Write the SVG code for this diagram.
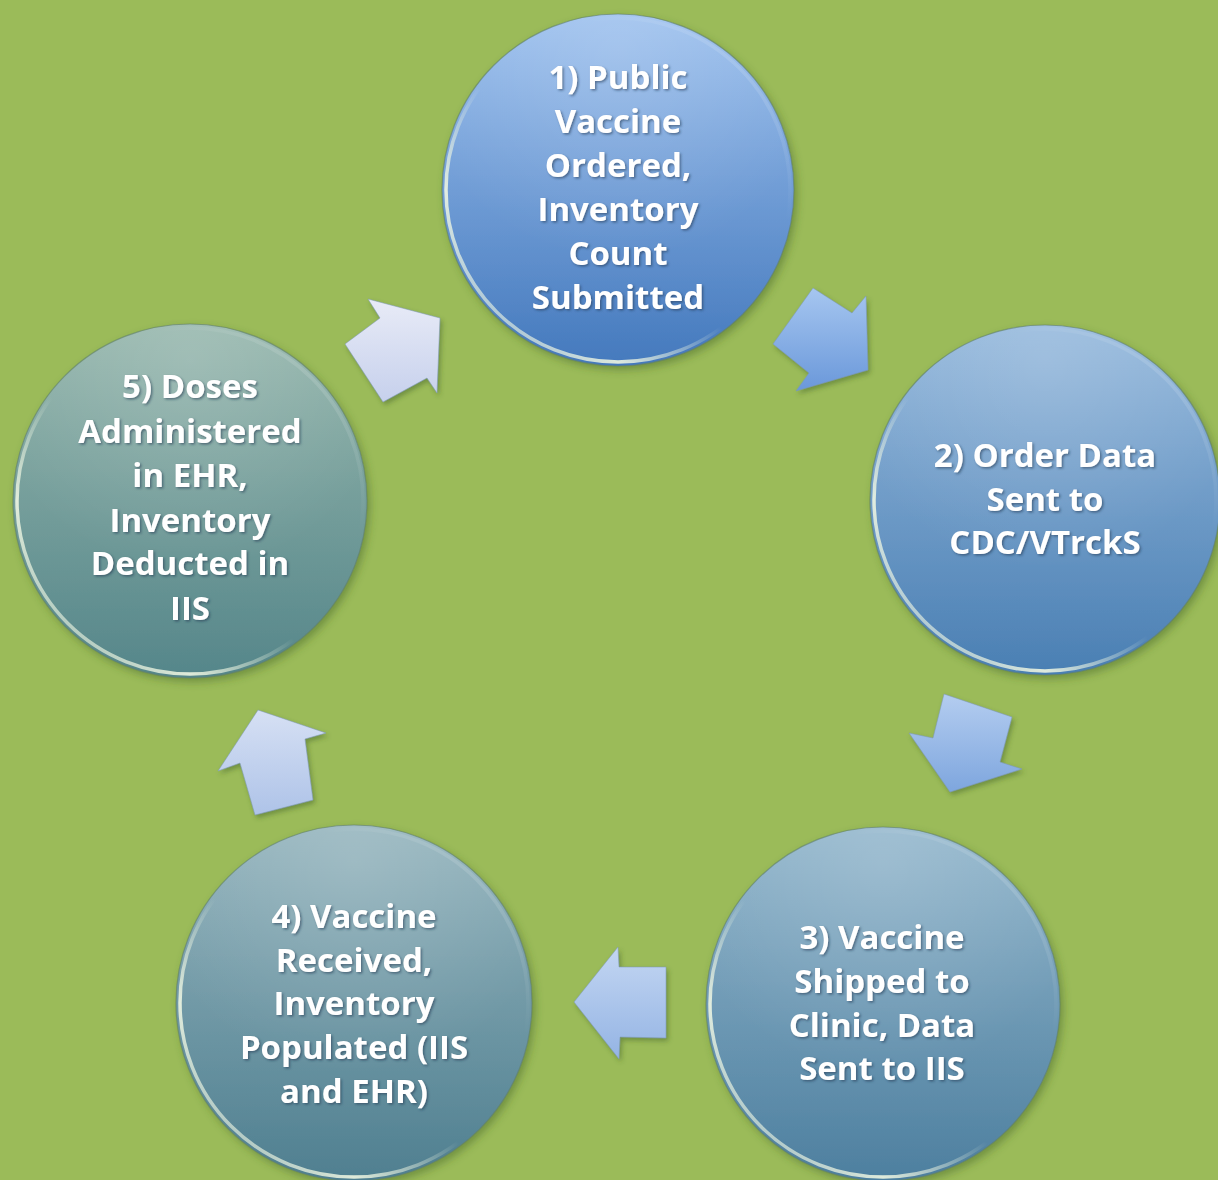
<svg xmlns="http://www.w3.org/2000/svg" width="1218" height="1180" viewBox="0 0 1218 1180">
<style>
.lbl{font-family:"Open Sans","Liberation Sans",sans-serif;font-weight:bold;font-size:33px;fill:#ffffff;text-anchor:middle;filter:url(#tsh)}
.rim{fill:none;stroke:url(#rimg);stroke-width:3.5}
.edge{fill:none;stroke:#5f7f6a;stroke-width:1.2;opacity:0.6}
.arr{stroke:#7a95b8;stroke-width:1;stroke-opacity:0.5;filter:url(#ash)}
</style>
<defs>
<filter id="tsh" x="-10%" y="-20%" width="120%" height="140%">
<feDropShadow dx="1.5" dy="1.5" stdDeviation="1.2" flood-color="#1d3550" flood-opacity="0.55"/>
</filter>
<filter id="csh" x="-10%" y="-10%" width="125%" height="125%">
<feDropShadow dx="3" dy="4" stdDeviation="4" flood-color="#3d5a20" flood-opacity="0.45"/>
</filter>
<filter id="ash" x="-15%" y="-15%" width="135%" height="135%">
<feDropShadow dx="2" dy="3" stdDeviation="2.5" flood-color="#3d5a20" flood-opacity="0.45"/>
</filter>
<linearGradient id="rimg" x1="1" y1="0" x2="0" y2="1">
<stop offset="0" stop-color="#ffffff" stop-opacity="0.25"/>
<stop offset="0.3" stop-color="#ffffff" stop-opacity="0"/>
<stop offset="0.55" stop-color="#eef6e2" stop-opacity="0"/>
<stop offset="0.75" stop-color="#eef6e2" stop-opacity="0.9"/>
<stop offset="0.9" stop-color="#eef6e2" stop-opacity="0.5"/>
<stop offset="1" stop-color="#eef6e2" stop-opacity="0"/>
</linearGradient>
<linearGradient id="g1" x1="0" y1="0" x2="0" y2="1">
<stop offset="0" stop-color="#9cc0ee"/><stop offset="1" stop-color="#4479bd"/>
</linearGradient>
<linearGradient id="g2" x1="0" y1="0" x2="0" y2="1">
<stop offset="0" stop-color="#94b8dc"/><stop offset="1" stop-color="#4a7fb3"/>
</linearGradient>
<linearGradient id="g3" x1="0" y1="0" x2="0" y2="1">
<stop offset="0" stop-color="#92b6cc"/><stop offset="1" stop-color="#4d7f9f"/>
</linearGradient>
<linearGradient id="g4" x1="0" y1="0" x2="0" y2="1">
<stop offset="0" stop-color="#94b4bd"/><stop offset="1" stop-color="#4f7f90"/>
</linearGradient>
<linearGradient id="g5" x1="0" y1="0" x2="0" y2="1">
<stop offset="0" stop-color="#95b6ac"/><stop offset="1" stop-color="#55868a"/>
</linearGradient>
<linearGradient id="a1" x1="0" y1="0" x2="0" y2="1">
<stop offset="0" stop-color="#a6c6f0"/><stop offset="1" stop-color="#6a98da"/>
</linearGradient>
<linearGradient id="a2" x1="0" y1="0" x2="0" y2="1">
<stop offset="0" stop-color="#b4cdf0"/><stop offset="1" stop-color="#7ea6de"/>
</linearGradient>
<linearGradient id="a3" x1="0" y1="0" x2="0" y2="1">
<stop offset="0" stop-color="#c3d6f2"/><stop offset="1" stop-color="#94b4e4"/>
</linearGradient>
<linearGradient id="a4" x1="0" y1="0" x2="0" y2="1">
<stop offset="0" stop-color="#d6e0f4"/><stop offset="1" stop-color="#aec3e8"/>
</linearGradient>
<linearGradient id="a5" x1="0" y1="0" x2="0" y2="1">
<stop offset="0" stop-color="#e8ebf7"/><stop offset="1" stop-color="#c6d0ec"/>
</linearGradient>
<radialGradient id="gloss" cx="0.5" cy="0.1" r="0.6">
<stop offset="0" stop-color="#ffffff" stop-opacity="0.15"/><stop offset="1" stop-color="#ffffff" stop-opacity="0"/>
</radialGradient>
</defs>
<rect x="0" y="0" width="1218" height="1180" fill="#9bbb59"/>

<g id="connectors">
<polygon class="arr" fill="url(#a1)" points="813,288 852,313 866,296 868,370 796,391 809,373 773,344"/>
<polygon class="arr" fill="url(#a2)" points="944,694 1012,717 1000,762 1022,769 950,792 909,733 933,738"/>
<polygon class="arr" fill="url(#a3)" points="666,967 666,1038 620,1037 619,1059 574,1002 618,947 619,967"/>
<polygon class="arr" fill="url(#a4)" points="258,710 326,733 305,739 313,800 255,815 240,763 218,771"/>
<polygon class="arr" fill="url(#a5)" points="440,318 437,393 427,378 383,402 345,344 380,318 368,299"/>
</g>

<g id="node1">
<circle cx="618" cy="190" r="176" fill="url(#g1)" filter="url(#csh)"/>
<circle cx="618" cy="190" r="176" fill="url(#gloss)"/>
<circle class="edge" cx="618" cy="190" r="176"/>
<circle class="rim" cx="618" cy="190" r="172"/>
<text class="lbl" x="618" y="89">1) Public</text>
<text class="lbl" x="618" y="133">Vaccine</text>
<text class="lbl" x="618" y="177">Ordered,</text>
<text class="lbl" x="618" y="221">Inventory</text>
<text class="lbl" x="618" y="265">Count</text>
<text class="lbl" x="618" y="309">Submitted</text>
</g>

<g id="node2">
<circle cx="1045" cy="500" r="175" fill="url(#g2)" filter="url(#csh)"/>
<circle cx="1045" cy="500" r="175" fill="url(#gloss)"/>
<circle class="edge" cx="1045" cy="500" r="175"/>
<circle class="rim" cx="1045" cy="500" r="171"/>
<text class="lbl" x="1045" y="467">2) Order Data</text>
<text class="lbl" x="1045" y="511">Sent to</text>
<text class="lbl" x="1045" y="554">CDC/VTrckS</text>
</g>

<g id="node3">
<circle cx="883" cy="1004" r="177" fill="url(#g3)" filter="url(#csh)"/>
<circle cx="883" cy="1004" r="177" fill="url(#gloss)"/>
<circle class="edge" cx="883" cy="1004" r="177"/>
<circle class="rim" cx="883" cy="1004" r="173"/>
<text class="lbl" x="882" y="949">3) Vaccine</text>
<text class="lbl" x="882" y="993">Shipped to</text>
<text class="lbl" x="882" y="1037">Clinic, Data</text>
<text class="lbl" x="882" y="1080">Sent to IIS</text>
</g>

<g id="node4">
<circle cx="354" cy="1003" r="178" fill="url(#g4)" filter="url(#csh)"/>
<circle cx="354" cy="1003" r="178" fill="url(#gloss)"/>
<circle class="edge" cx="354" cy="1003" r="178"/>
<circle class="rim" cx="354" cy="1003" r="174"/>
<text class="lbl" x="354" y="928">4) Vaccine</text>
<text class="lbl" x="354" y="972">Received,</text>
<text class="lbl" x="354" y="1015">Inventory</text>
<text class="lbl" x="354" y="1059">Populated (IIS</text>
<text class="lbl" x="354" y="1103">and EHR)</text>
</g>

<g id="node5">
<circle cx="190" cy="501" r="177" fill="url(#g5)" filter="url(#csh)"/>
<circle cx="190" cy="501" r="177" fill="url(#gloss)"/>
<circle class="edge" cx="190" cy="501" r="177"/>
<circle class="rim" cx="190" cy="501" r="173"/>
<text class="lbl" x="190" y="398">5) Doses</text>
<text class="lbl" x="190" y="443">Administered</text>
<text class="lbl" x="190" y="487">in EHR,</text>
<text class="lbl" x="190" y="532">Inventory</text>
<text class="lbl" x="190" y="575">Deducted in</text>
<text class="lbl" x="190" y="620">IIS</text>
</g>
</svg>
